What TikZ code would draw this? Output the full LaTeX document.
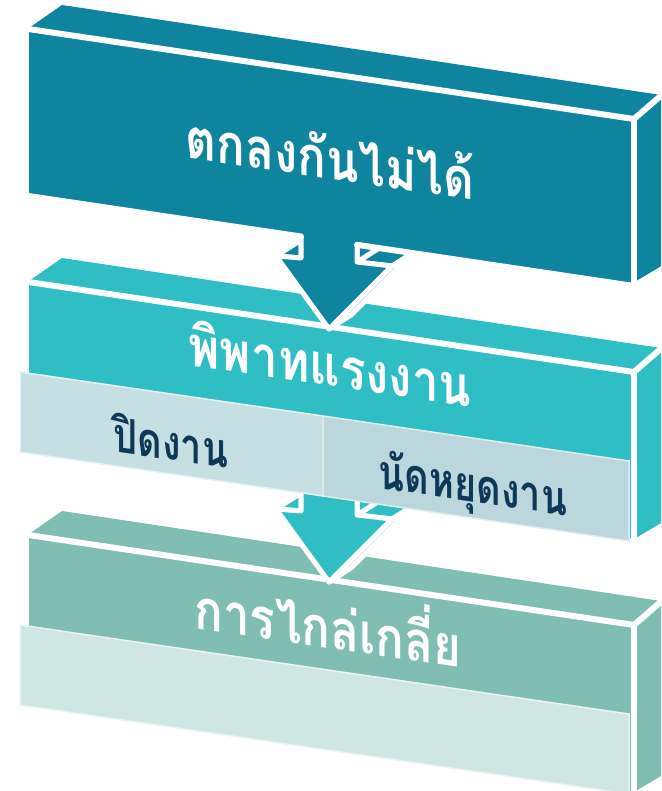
\documentclass[tikz,border=0pt]{standalone}
\usepackage{fontspec}
\newfontfamily\thaifont[Script=Thai]{Loma}
\definecolor{cA}{HTML}{0F849E}
\definecolor{cB}{HTML}{2FBEC3}
\definecolor{cC}{HTML}{80BDB2}
\definecolor{pL}{HTML}{C6DFE2}
\definecolor{pR}{HTML}{BBD6DC}
\definecolor{pC}{HTML}{D0E6E3}
\definecolor{txtd}{HTML}{0E3857}
\begin{document}
\begin{tikzpicture}[x=1pt,y=-1pt,
  sep/.style={white,line width=6pt,line cap=round},
  aface/.style={fill=#1,draw=white,line width=5pt,line join=round},
  panel/.style={fill=#1,draw=white!55!#1,line width=1.5pt},
  bigtxt/.style={font=\thaifont\bfseries\fontsize{56}{60}\selectfont,text=white,anchor=base,yslant=-0.148,xscale=0.85,transform shape,inner sep=0pt},
  smalltxt/.style={font=\thaifont\bfseries\fontsize{48}{52}\selectfont,text=txtd,anchor=base,yslant=-0.148,xscale=0.79,transform shape,inner sep=0pt}]
\useasboundingbox (0,0) rectangle (661,791);
\clip (0,0) rectangle (661,791);
% ---------- slab (box) ----------
\newcommand\slabbox[2]{%
  \begin{scope}[shift={(0,#1)}]
    \fill[#2] (29,28) -- (62,5) -- (661,95) -- (634,119) -- cycle;
    \fill[#2] (29,28) -- (634,119) -- (634,286) -- (29,196) -- cycle;
    \fill[#2] (634,119) -- (661,95) -- (661,270) -- (634,286) -- cycle;
    \draw[sep] (25,28.5) -- (634,119) -- (664,93);
    \draw[sep] (634,119) -- (634,290);
  \end{scope}}
% ---------- 3D arrow ----------
\newcommand\slabarrow[2]{%
  \begin{scope}[shift={(0,#1)}]
    \filldraw[aface=#2] (392,266) -- (329,329) -- (351,315) -- (414,252) -- cycle;
    \filldraw[aface=#2] (357,262) -- (392,266) -- (414,252) -- (379,248) -- cycle;
    \filldraw[aface=#2] (357,190) -- (357,262) -- (379,248) -- (379,176) -- cycle;
    \filldraw[aface=#2] (276,256) -- (298,242) -- (301,242) -- (301,258) -- cycle;
    \filldraw[aface=#2] (301,190) -- (301,258) -- (276,256) -- (329,329) -- (392,266) -- (357,262) -- (357,190) -- cycle;
  \end{scope}}
% box 3
\slabbox{506}{cC}
\fill[panel=pC] (20,625) -- (629,714) -- (629,794) -- (20,705) -- cycle;
% arrow 2
\slabarrow{253}{cB}
% box 2
\slabbox{253}{cB}
\fill[panel=pL] (20,372) -- (323,416) -- (323,496) -- (20,452) -- cycle;
\fill[panel=pR] (323,416) -- (629,461) -- (629,541) -- (323,496) -- cycle;
% arrow 1
\slabarrow{0}{cA}
% box 1
\slabbox{0}{cA}
\draw[sep] (25,195.5) -- (301,236.5);
\draw[sep] (357,244.8) -- (634,286) -- (664,268);
% texts
\node[bigtxt] (t1) at (330,179) {ตกลงกันไม่ได้};
\node[bigtxt] (t2) at (330,386) {พิพาทแรงงาน};
\node[smalltxt] (t3) at (171,460) {ปิดงาน};
\node[smalltxt] (t4) at (473,502) {นัดหยุดงาน};
\node[bigtxt] (t5) at (328,648) {การไกล่เกลี่ย};
\end{tikzpicture}
\end{document}
